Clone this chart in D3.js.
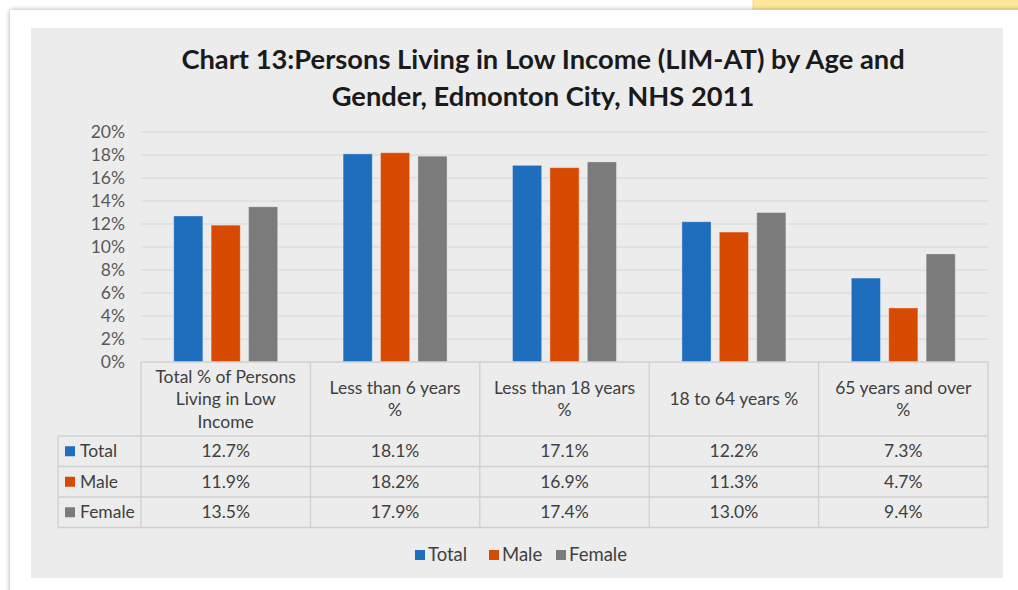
<!DOCTYPE html>
<html>
<head>
<meta charset="utf-8">
<script src="https://cdn.jsdelivr.net/npm/d3@7"></script>
<style>
  body { margin: 0; background: #fff; }
  svg { display: block; }
</style>
</head>
<body>
<div id="chart"></div>
<script>
// data
var categories = [
  ["Total % of Persons", "Living in Low", "Income"],
  ["Less than 6 years", "%"],
  ["Less than 18 years", "%"],
  ["18 to 64 years %"],
  ["65 years and over", "%"]
];
var seriesNames = ["Total", "Male", "Female"];
var totalVals = [12.7, 18.1, 17.1, 12.2, 7.3];
var maleVals = [11.9, 18.2, 16.9, 11.3, 4.7];
var femaleVals = [13.5, 17.9, 17.4, 13.0, 9.4];
var yTicks = [0, 2, 4, 6, 8, 10, 12, 14, 16, 18, 20];

var seriesVals = [totalVals, maleVals, femaleVals];
var colors = ["#1f6dbd", "#d84a02", "#7b7b7b"];
var font = "Lato, 'Open Sans', sans-serif";
var txtSize = "17.5px";

var W = 1018, H = 590;
var svg = d3.select("#chart").append("svg")
  .attr("width", W).attr("height", H);

var defs = svg.append("defs");
var f = defs.append("filter").attr("id", "shadow")
  .attr("x", -0.05).attr("y", -0.05).attr("width", 1.1).attr("height", 1.1);
f.append("feGaussianBlur").attr("in", "SourceAlpha").attr("stdDeviation", 2.5);
f.append("feComponentTransfer").append("feFuncA").attr("type", "linear").attr("slope", 0.35);
var m = f.append("feMerge");
m.append("feMergeNode");
m.append("feMergeNode").attr("in", "SourceGraphic");

// yellow tab top right
svg.append("rect").attr("x", 753).attr("y", -2).attr("width", 270).attr("height", 11)
  .style("fill", "#fde79b").style("stroke", "#f7dc86");

// white card
svg.append("rect").attr("x", 10).attr("y", 10).attr("width", 1020).attr("height", 600)
  .style("fill", "#fff").attr("filter", "url(#shadow)");

// chart panel
svg.append("rect").attr("x", 31).attr("y", 28).attr("width", 972).attr("height", 550)
  .style("fill", "#ececec");

// title
var title = svg.append("text")
  .attr("text-anchor", "middle")
  .style("font-family", font).style("font-weight", "bold")
  .style("font-size", "27.3px").style("fill", "#1a1a1a");
title.append("tspan").attr("x", 543).attr("y", 69)
  .text("Chart 13:Persons Living in Low Income (LIM-AT) by Age and");
title.append("tspan").attr("x", 543).attr("y", 106)
  .text("Gender, Edmonton City, NHS 2011");

// scales
var plotL = 141, plotR = 988, plotT = 132, plotB = 362;
var x0 = d3.scaleBand().domain(d3.range(categories.length)).range([plotL, plotR]).padding(0);
var x1 = d3.scaleBand().domain(d3.range(seriesNames.length)).range([0, 104]).paddingInner(0.22);
var y = d3.scaleLinear().domain([0, 20]).range([plotB, plotT]);

// gridlines
svg.append("g").selectAll("line").data(yTicks.slice(1)).enter().append("line")
  .attr("x1", plotL).attr("x2", plotR)
  .attr("y1", function(d) { return y(d); }).attr("y2", function(d) { return y(d); })
  .style("stroke", "#d6d6d6").style("stroke-width", 1);

// y axis
var yAxis = svg.append("g").attr("transform", "translate(" + plotL + ",0)")
  .call(d3.axisLeft(y).tickValues(yTicks).tickSize(0).tickPadding(16)
    .tickFormat(function(d) { return d + "%"; }));
yAxis.select(".domain").remove();
yAxis.selectAll("text").style("font-family", font).style("font-size", txtSize).style("fill", "#595959");

// bars
var groups = svg.append("g").selectAll("g").data(categories).enter().append("g")
  .attr("transform", function(d, i) {
    return "translate(" + (x0(i) + (x0.bandwidth() - 104) / 2) + ",0)";
  });
groups.selectAll("rect").data(function(d, i) {
    return seriesVals.map(function(s, k) { return {k: k, v: s[i]}; });
  }).enter().append("rect")
  .attr("x", function(d) { return x1(d.k); })
  .attr("width", x1.bandwidth())
  .attr("y", function(d) { return y(d.v); })
  .attr("height", function(d) { return plotB - y(d.v); })
  .style("fill", function(d) { return colors[d.k]; })
  .style("stroke", "rgba(255,255,255,0.35)").style("stroke-width", 1);

// data table
var tableLeft = 58, headerBottom = 436, rowH = 30.5;
var tg = svg.append("g");
var lineStyle = function(sel) { return sel.style("stroke", "#d0d0d0").style("stroke-width", 1.3); };

tg.append("line").attr("x1", plotL).attr("x2", plotR).attr("y1", plotB).attr("y2", plotB).call(lineStyle);
d3.range(categories.length + 1).forEach(function(i) {
  var xx = i < categories.length ? x0(i) : plotR;
  tg.append("line").attr("x1", xx).attr("x2", xx).attr("y1", plotB)
    .attr("y2", headerBottom + rowH * 3).call(lineStyle);
});
d3.range(4).forEach(function(r) {
  var yy = headerBottom + r * rowH;
  tg.append("line").attr("x1", tableLeft).attr("x2", plotR).attr("y1", yy).attr("y2", yy).call(lineStyle);
});
tg.append("line").attr("x1", tableLeft).attr("x2", tableLeft).attr("y1", headerBottom)
  .attr("y2", headerBottom + rowH * 3).call(lineStyle);

// header labels
categories.forEach(function(lines, i) {
  var cx = x0(i) + x0.bandwidth() / 2;
  var lh = 22.5;
  var mid = (plotB + headerBottom) / 2 + 6;
  var t = tg.append("text").attr("text-anchor", "middle")
    .style("font-family", font).style("font-size", txtSize).style("fill", "#404040");
  lines.forEach(function(s, j) {
    t.append("tspan").attr("x", cx).attr("y", mid + (j - (lines.length - 1) / 2) * lh).text(s);
  });
});

// rows
seriesNames.forEach(function(name, k) {
  var cy = headerBottom + k * rowH + rowH / 2;
  tg.append("rect").attr("x", 65).attr("y", cy - 5).attr("width", 10).attr("height", 10)
    .style("fill", colors[k]);
  tg.append("text").attr("x", 80).attr("y", cy + 6)
    .style("font-family", font).style("font-size", txtSize).style("fill", "#404040").text(name);
  seriesVals[k].forEach(function(v, i) {
    tg.append("text").attr("x", x0(i) + x0.bandwidth() / 2).attr("y", cy + 6)
      .attr("text-anchor", "middle")
      .style("font-family", font).style("font-size", txtSize).style("fill", "#404040")
      .text(v.toFixed(1) + "%");
  });
});

// legend
var legendX = [415, 489, 556];
var lg = svg.append("g");
seriesNames.forEach(function(name, k) {
  lg.append("rect").attr("x", legendX[k]).attr("y", 550).attr("width", 10).attr("height", 10)
    .style("fill", colors[k]);
  lg.append("text").attr("x", legendX[k] + 13).attr("y", 561)
    .style("font-family", font).style("font-size", "18.5px").style("fill", "#404040").text(name);
});
</script>
</body>
</html>
